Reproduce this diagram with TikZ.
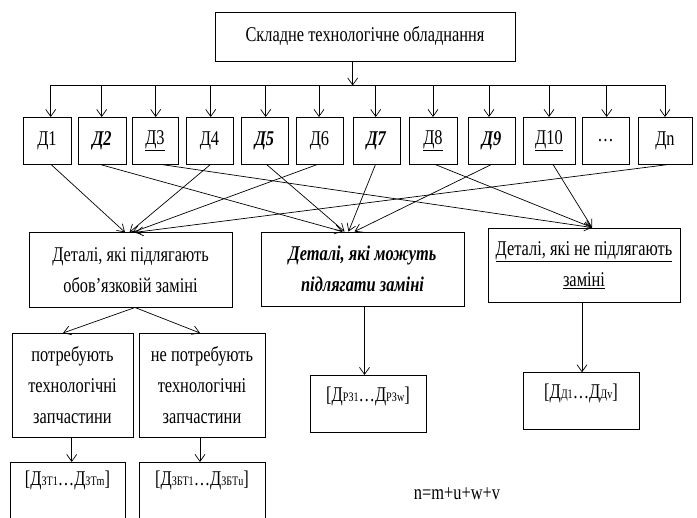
\documentclass[tikz,border=0pt]{standalone}
\usepackage{fontspec}
\setmainfont{Liberation Serif}[FakeStretch=0.78]
\usetikzlibrary{arrows.meta,calc}
\newcommand{\subt}[1]{{\fontsize{13}{13}\selectfont #1}}
\begin{document}
\begin{tikzpicture}[x=1pt,y=-1pt,
  font=\fontsize{21}{31}\selectfont,
  box/.style={draw, line width=0.9pt, inner sep=0pt, align=center},
  dbox/.style={box, minimum height=47},
  arr/.style={-{Straight Barb[length=7pt,width=10pt]}, line width=0.7pt},
  lnk/.style={-{Straight Barb[length=7pt,width=9pt]}, line width=0.7pt}]
\useasboundingbox (0,0) rectangle (697,518);
\fill[white] (0,0) rectangle (697,518);

% top box
\node[box, minimum width=300, minimum height=49] (top) at (365,36.5) {Складне технологічне обладнання};
\coordinate (tsrc) at (352.7,61);
\coordinate (bus) at (352.7,85.5);
\coordinate (busL) at (50.7,85.5);
\coordinate (busR) at (665,85.5);
\draw[arr] (tsrc) -- (bus);
\draw[line width=0.7pt] (busL) -- (busR);

% D boxes
\node[dbox, minimum width=48] (d1) at (47,140.5) {Д1};
\node[dbox, minimum width=48] (d2) at (102,140.5) {\textbf{\textit{Д2}}};
\node[dbox, minimum width=46] (d3) at (155,140.5) {\underline{Д3}};
\node[dbox, minimum width=47] (d4) at (209.5,140.5) {Д4};
\node[dbox, minimum width=47] (d5) at (264.5,140.5) {\textbf{\textit{Д5}}};
\node[dbox, minimum width=47] (d6) at (319.5,140.5) {Д6};
\node[dbox, minimum width=47] (d7) at (376.5,140.5) {\textbf{\textit{Д7}}};
\node[dbox, minimum width=48] (d8) at (433,140.5) {\underline{Д8}};
\node[dbox, minimum width=47] (d9) at (491.5,140.5) {\textbf{\textit{Д9}}};
\node[dbox, minimum width=52] (d10) at (549,140.5) {\underline{Д10}};
\node[dbox, minimum width=47] (d11) at (605.5,140.5) {…};
\node[dbox, minimum width=54] (dn) at (665,140.5) {Дn};

\foreach \n/\xx in {d1/50.7,d2/101.7,d3/155.7,d4/210.7,d5/265.7,d6/319,d7/375.7,d8/433,d9/489,d10/549,d11/606.7,dn/665}{
  \draw[arr] (\xx,85.5) -- (\xx,117) ;
}

% category boxes
\node[box, minimum width=203, minimum height=74.5] (ca) at (130.5,270) {Деталі, які підлягають\\обов’язковій заміні};
\node[box, minimum width=203, minimum height=74] (cb) at (362.5,269) {\textbf{\textit{Деталі, які можуть}}\\\textbf{\textit{підлягати заміні}}};
\node[box, minimum width=192, minimum height=74] (cc) at (584,265) {\underline{Деталі, які не підлягають}\\\underline{заміні}};

% links to left box
\draw[lnk] ($(d1.south)+(4,0)$) -- ($(ca.north)+(-5.5,0)$);
\draw[lnk] ($(d4.south)+(1,0)$) -- ($(ca.north)+(-1,0)$);
\draw[lnk] ($(d6.south)+(-2,0)$) -- ($(ca.north)+(2,0)$);
\draw[lnk] ($(dn.south)+(4,0)$) -- ($(ca.north)+(5,0)$);
% links to middle box
\draw[lnk] ($(d2.south)+(-2,0)$) -- ($(cb.north)+(-20,0)$);
\draw[lnk] ($(d5.south)+(2,0)$) -- ($(cb.north)+(-18,0)$);
\draw[lnk] ($(d7.south)+(-1,0)$) -- ($(cb.north)+(-14,0)$);
\draw[lnk] (d9.south) -- ($(cb.north)+(-8,0)$);
% links to right box
\draw[lnk] ($(d3.south)+(6,0)$) -- ($(cc.north)+(8,0)$);
\draw[lnk] ($(d8.south)+(2,0)$) -- ($(cc.north)+(8,0)$);
\draw[lnk] ($(d10.south)+(4,0)$) -- ($(cc.north)+(8,0)$);

% sub boxes
\node[box, minimum width=121, minimum height=104] (s1) at (72.5,385) {потребують\\технологічні\\запчастини};
\node[box, minimum width=126, minimum height=104] (s2) at (202,385) {не потребують\\технологічні\\запчастини};
\coordinate (asrc) at (135,307.5);
\draw[lnk] (asrc) -- (63,333);
\draw[lnk] (asrc) -- (200,333);

% result boxes
\node[box, minimum width=115, minimum height=70] (r1) at (67.5,497) {};
\node (r1t) at (67.5,480) {[Д\subt{ЗТ1}…Д\subt{ЗТm}]};
\node[box, minimum width=126, minimum height=70] (r2) at (202,497) {};
\node (r2t) at (202,480) {[Д\subt{ЗБТ1}…Д\subt{ЗБТu}]};
\draw[arr] (71.7,437) -- (71.7,462);
\draw[arr] (200,437) -- (200,462);

\node[box, minimum width=116, minimum height=57] (rd) at (368,403.5) {};
\node (rdt) at (368,396.7) {[Д\subt{РЗ1}…Д\subt{РЗw}]};
\draw[arr] (364.5,306) -- (364.5,375);

\node[box, minimum width=116, minimum height=57] (re) at (581,400.8) {};
\node (ret) at (581,393) {[Д\subt{Д1}…Д\subt{Дv}]};
\draw[arr] (582,302) -- (582,372.3);

\node (formula) at (457,494) {n=m+u+w+v};
\end{tikzpicture}
\end{document}
